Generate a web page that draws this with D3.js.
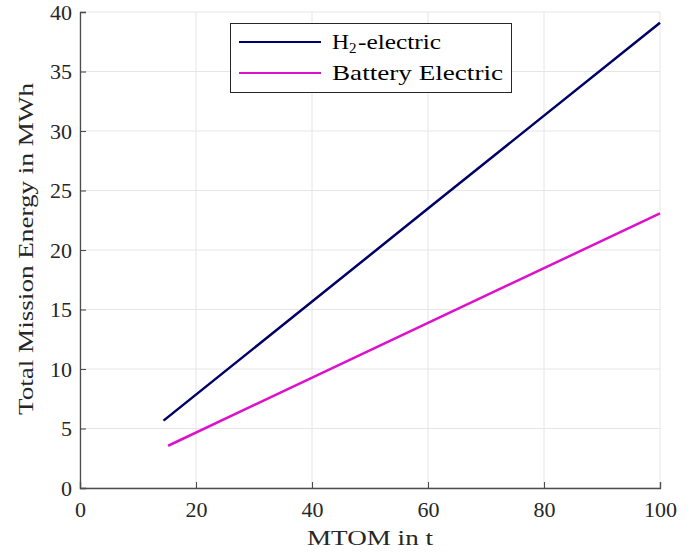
<!DOCTYPE html>
<html><head><meta charset="utf-8">
<script src="https://cdn.jsdelivr.net/npm/d3@7"></script>
<style>body{margin:0;background:#fff}svg{display:block}</style>
</head><body>
<svg id="c" width="697" height="554"></svg>
<script>
const xTicks = [0,20,40,60,80,100];
const yTicks = [0,5,10,15,20,25,30,35,40];
const h2Mtom = [14.4, 60, 100];
const h2Energy = [5.66, 23.48, 39.1];
const batMtom = [15.2, 60, 100];
const batEnergy = [3.55, 13.87, 23.08];
const seriesNames = ["H2-electric", "Battery Electric"];
const colors = ["#000066", "#dd11cc"];

const svg = d3.select("#c");
const m = {l:80, r:37, t:12, b:66};
const W = 697, H = 554;
const x = d3.scaleLinear().domain([0,100]).range([m.l, W-m.r]);
const y = d3.scaleLinear().domain([0,40]).range([H-m.b, m.t]);
const font = "Liberation Serif, Tinos, Times New Roman, DejaVu Serif, serif";
const fs = 22;

// grid
svg.append("g").selectAll("line").data(xTicks).join("line")
  .attr("x1", d=>x(d)).attr("x2", d=>x(d)).attr("y1", y(0)).attr("y2", y(40))
  .attr("stroke", "#e6e6e6").attr("stroke-width", 1);
svg.append("g").selectAll("line").data(yTicks).join("line")
  .attr("x1", x(0)).attr("x2", x(100)).attr("y1", d=>y(d)).attr("y2", d=>y(d))
  .attr("stroke", "#e6e6e6").attr("stroke-width", 1);

// axes
const xa = svg.append("g").attr("transform", `translate(0,${y(0)})`)
  .call(d3.axisBottom(x).tickValues(xTicks).tickSize(-6).tickPadding(13).tickFormat(d3.format("d")));
const ya = svg.append("g").attr("transform", `translate(${x(0)},0)`)
  .call(d3.axisLeft(y).tickValues(yTicks).tickSize(-6).tickPadding(8).tickFormat(d3.format("d")));
[xa, ya].forEach(a => {
  a.select(".domain").attr("stroke", "#4d4d4d").attr("stroke-width", 1.3);
  a.selectAll(".tick line").attr("stroke", "#4d4d4d").attr("stroke-width", 1.1);
  a.selectAll("text").attr("font-family", font).attr("font-size", fs).attr("fill", "#262626");
});

// lines
const line = d3.line().x(d=>x(d[0])).y(d=>y(d[1]));
const data = [d3.zip(h2Mtom, h2Energy), d3.zip(batMtom, batEnergy)];
svg.append("g").selectAll("path").data(data).join("path")
  .attr("d", line).attr("fill", "none")
  .attr("stroke", (d,i)=>colors[i]).attr("stroke-width", 2.5);

// axis labels
svg.append("text").attr("x", 307).attr("y", 545)
  .attr("textLength", 126).attr("lengthAdjust", "spacingAndGlyphs")
  .attr("font-family", font).attr("font-size", fs).attr("fill", "#262626").text("MTOM in t");
svg.append("text").attr("transform", `translate(33,415) rotate(-90)`)
  .attr("textLength", 332).attr("lengthAdjust", "spacingAndGlyphs")
  .attr("font-family", font).attr("font-size", fs).attr("fill", "#262626").text("Total Mission Energy in MWh");

// legend
const lg = svg.append("g");
lg.append("rect").attr("x", 230.5).attr("y", 23.5).attr("width", 281).attr("height", 69)
  .attr("fill", "#fff").attr("stroke", "#262626").attr("stroke-width", 1);
const rows = [42, 73];
rows.forEach((ry, i) => {
  lg.append("line").attr("x1", 239).attr("x2", 321).attr("y1", ry).attr("y2", ry)
    .attr("stroke", colors[i]).attr("stroke-width", 2);
});
lg.append("text").attr("x", 332).attr("y", rows[0]+7).attr("font-family", font)
  .attr("font-size", fs).attr("fill", "#000")
  .attr("textLength", 17).attr("lengthAdjust", "spacingAndGlyphs").text("H");
lg.append("text").attr("x", 349).attr("y", rows[0]+11).attr("font-family", font)
  .attr("font-size", 15).attr("fill", "#000").text("2");
lg.append("text").attr("x", 358).attr("y", rows[0]+7).attr("font-family", font)
  .attr("font-size", fs).attr("fill", "#000")
  .attr("textLength", 83).attr("lengthAdjust", "spacingAndGlyphs").text("-electric");
lg.append("text").attr("x", 332).attr("y", rows[1]+7).attr("font-family", font)
  .attr("font-size", fs).attr("fill", "#000")
  .attr("textLength", 171).attr("lengthAdjust", "spacingAndGlyphs").text(seriesNames[1]);
</script>
</body></html>
